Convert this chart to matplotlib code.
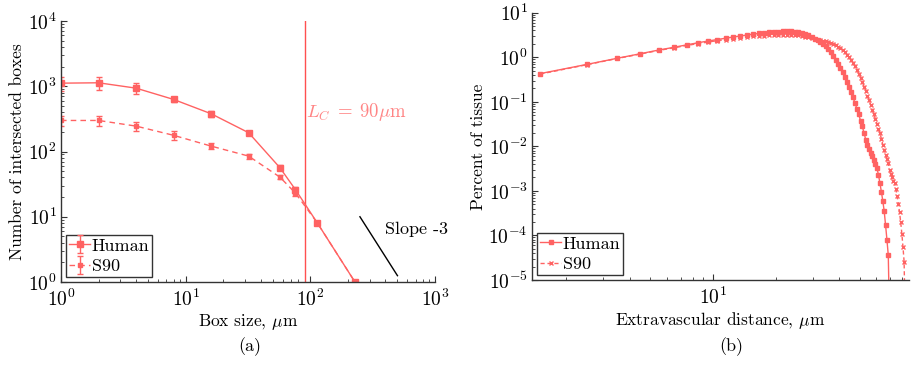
import numpy as np
import matplotlib
matplotlib.use('Agg')
import matplotlib.pyplot as plt
from matplotlib.ticker import LogLocator, NullFormatter

plt.rcParams.update({
    'font.family': 'serif',
    'font.serif': ['cmr10'],
    'mathtext.fontset': 'cm',
    'axes.unicode_minus': False,
    'axes.formatter.use_mathtext': True,
    'font.size': 12,
})

RED = '#ff6262'
LIGHT_RED = '#ff8585'
AXIS_COL = '#333333'

# (a) box counting
box_size = [1, 2, 4, 8, 16, 32, 57, 76, 114, 228]
human_boxes = [1115, 1130, 935, 628, 379, 194, 56.5, 26, 8, 1]
human_err = [260, 250, 170, 60, 45, 10, 5, 3, 0.6, 0]
s90_boxes = [299, 299, 245, 177, 121, 85, 40.5, 23, 8, 1]
s90_err = [50, 50, 42, 27, 13, 7.5, 3, 2, 0.6, 0]
lc = 90
slope_x = [250, 500]
slope_y = [10, 1.25]

# (b) extravascular distance histogram (bin centres, um)
dist = [1.5, 2.5, 3.5, 4.5, 5.5, 6.5, 7.5, 8.5, 9.5, 10.5,
        11.5, 12.5, 13.5, 14.5, 15.5, 16.5, 17.5, 18.5, 19.5, 20.5,
        21.5, 22.5, 23.5, 24.5, 25.5, 26.5, 27.5, 28.5, 29.5, 30.5,
        31.5, 32.5, 33.5, 34.5, 35.5, 36.5, 37.5, 38.5, 39.5, 40.5,
        41.5, 42.5, 43.5, 44.5, 45.5, 46.5, 47.5, 48.5, 49.5, 50.5,
        51.5, 52.5, 53.5, 54.5, 55.5, 56.5, 57.5, 58.5, 59.5, 60.5,
        61.5, 62.5, 63.5, 64.5, 65.5, 66.5, 67.5, 68.5, 69.5, 70.5,
        71.5, 72.5, 73.5, 74.5, 75.5, 76.5, 77.5, 78.5, 79.5, 80.5,
        81.5, 82.5]
human_pct = [0.43, 0.69, 0.95, 1.2, 1.45, 1.67, 1.9, 2.12, 2.32, 2.5,
             2.68, 2.85, 3.0, 3.15, 3.3, 3.42, 3.53, 3.62, 3.7, 3.76,
             3.8, 3.82, 3.8, 3.75, 3.65, 3.5, 3.3, 3.1, 2.85, 2.6,
             2.4, 2.2, 2.0, 1.8, 1.55, 1.3, 1.08, 0.88, 0.72, 0.58,
             0.46, 0.36, 0.28, 0.21, 0.165, 0.125, 0.095, 0.07, 0.052, 0.038,
             0.028, 0.02, 0.014, 0.0105, 0.0085, 0.0072, 0.006, 0.0049, 0.004, 0.0032,
             0.0023, 0.0015, 0.00095, 0.0006, 0.00035, 0.00017, 8e-5, 3.6e-5, 1e-6]
s90_pct = [0.42, 0.68, 0.94, 1.18, 1.42, 1.63, 1.84, 2.03, 2.2, 2.36,
           2.5, 2.62, 2.74, 2.84, 2.93, 3.0, 3.06, 3.11, 3.15, 3.18,
           3.2, 3.2, 3.18, 3.14, 3.08, 3.0, 2.9, 2.79, 2.67, 2.6,
           2.5, 2.42, 2.34, 2.26, 2.17, 2.08, 1.98, 1.86, 1.73, 1.6,
           1.45, 1.3, 1.15, 1.0, 0.86, 0.74, 0.62, 0.52, 0.43, 0.35,
           0.28, 0.22, 0.175, 0.138, 0.108, 0.085, 0.066, 0.052, 0.041, 0.032,
           0.025, 0.0195, 0.015, 0.011, 0.0082, 0.0065, 0.0052, 0.0042, 0.0029, 0.0024,
           0.0021, 0.0017, 0.0015, 0.0011, 0.00075, 0.00052, 0.00033, 0.0002, 0.00011, 5.5e-5,
           2.6e-5, 1e-6]

fig = plt.figure(figsize=(9.12, 3.67), dpi=100)
ax1 = fig.add_axes([61 / 912, 1 - 282 / 367, 374 / 912, 261 / 367])
ax2 = fig.add_axes([532 / 912, 1 - 280 / 367, 377 / 912, 267.3 / 367])


def style_axis(ax):
    for side in ('top', 'right'):
        ax.spines[side].set_visible(False)
    for side in ('left', 'bottom'):
        ax.spines[side].set_color(AXIS_COL)
        ax.spines[side].set_linewidth(1.0)
    ax.tick_params(which='both', direction='in', colors=AXIS_COL,
                   labelcolor='black', labelsize=14)
    ax.tick_params(axis='x', pad=5)
    ax.tick_params(axis='y', pad=3)
    ax.tick_params(which='major', length=4)
    ax.tick_params(which='minor', length=2)


def style_legend(ax):
    leg = ax.legend(loc='lower left', fontsize=13, fancybox=False, framealpha=1,
                    borderaxespad=0.3, handlelength=1.15, handletextpad=0.1,
                    borderpad=0.15, labelspacing=0.25)
    leg.get_frame().set_edgecolor(AXIS_COL)
    leg.get_frame().set_linewidth(1.0)


# Panel (a)
ax = ax1
ax.set_xscale('log')
ax.set_yscale('log')
ax.errorbar(box_size, human_boxes, yerr=human_err, color=RED, marker='s',
            ms=4, lw=1, elinewidth=1, capsize=2, label='Human')
ax.errorbar(box_size, s90_boxes, yerr=s90_err, color=RED, marker='s',
            ms=2.5, lw=1, ls=(0, (4, 3)), elinewidth=1, capsize=2, label='S90')
ax.axvline(lc, color='#ff5050', lw=1)
ax.text(92, 400, r'$L_C\;=\;90\mu\mathrm{m}$', color=LIGHT_RED, fontsize=13.5,
        va='center', ha='left')
ax.plot(slope_x, slope_y, color='black', lw=1)
ax.text(396, 6.4, 'Slope -3', fontsize=13, va='center', ha='left', clip_on=False)
ax.set_xlim(1, 1000)
ax.set_ylim(1, 1e4)
ax.xaxis.set_major_locator(LogLocator(base=10, numticks=10))
ax.yaxis.set_major_locator(LogLocator(base=10, numticks=10))
ax.xaxis.set_minor_locator(LogLocator(base=10, subs=np.arange(2, 10), numticks=10))
ax.yaxis.set_minor_locator(LogLocator(base=10, subs=np.arange(2, 10), numticks=10))
ax.xaxis.set_minor_formatter(NullFormatter())
ax.yaxis.set_minor_formatter(NullFormatter())
style_axis(ax)
ax.set_xlabel(r'Box size, $\mu$m', fontsize=12.5, labelpad=1)
ax.set_ylabel('Number of intersected boxes', fontsize=12.5, labelpad=2)
style_legend(ax)

# Panel (b)
ax = ax2
ax.set_xscale('log')
ax.set_yscale('log')
ax.plot(dist[:len(human_pct)], human_pct, color=RED, marker='s', ms=3.2,
        lw=1, label='Human')
ax.plot(dist, s90_pct, color=RED, marker='x', ms=2.5, mew=1, lw=1,
        ls=(0, (3, 2)), label='S90')
ax.set_xlim(1.37, 86)
ax.set_ylim(1e-5, 10)
ax.xaxis.set_major_locator(LogLocator(base=10, numticks=10))
ax.yaxis.set_major_locator(LogLocator(base=10, numticks=20))
ax.xaxis.set_minor_locator(LogLocator(base=10, subs=np.arange(2, 10), numticks=10))
ax.yaxis.set_minor_locator(LogLocator(base=10, subs=np.arange(2, 10), numticks=20))
ax.xaxis.set_minor_formatter(NullFormatter())
ax.yaxis.set_minor_formatter(NullFormatter())
style_axis(ax)
ax.set_xlabel(r'Extravascular distance, $\mu$m', fontsize=12.5, labelpad=1)
ax.set_ylabel('Percent of tissue', fontsize=12.5, labelpad=2)
style_legend(ax)

fig.text(250 / 912, 1 - 347 / 367, '(a)', ha='center', va='center', fontsize=13)
fig.text(731 / 912, 1 - 347 / 367, '(b)', ha='center', va='center', fontsize=13)

fig.savefig('out.png', dpi=100)
